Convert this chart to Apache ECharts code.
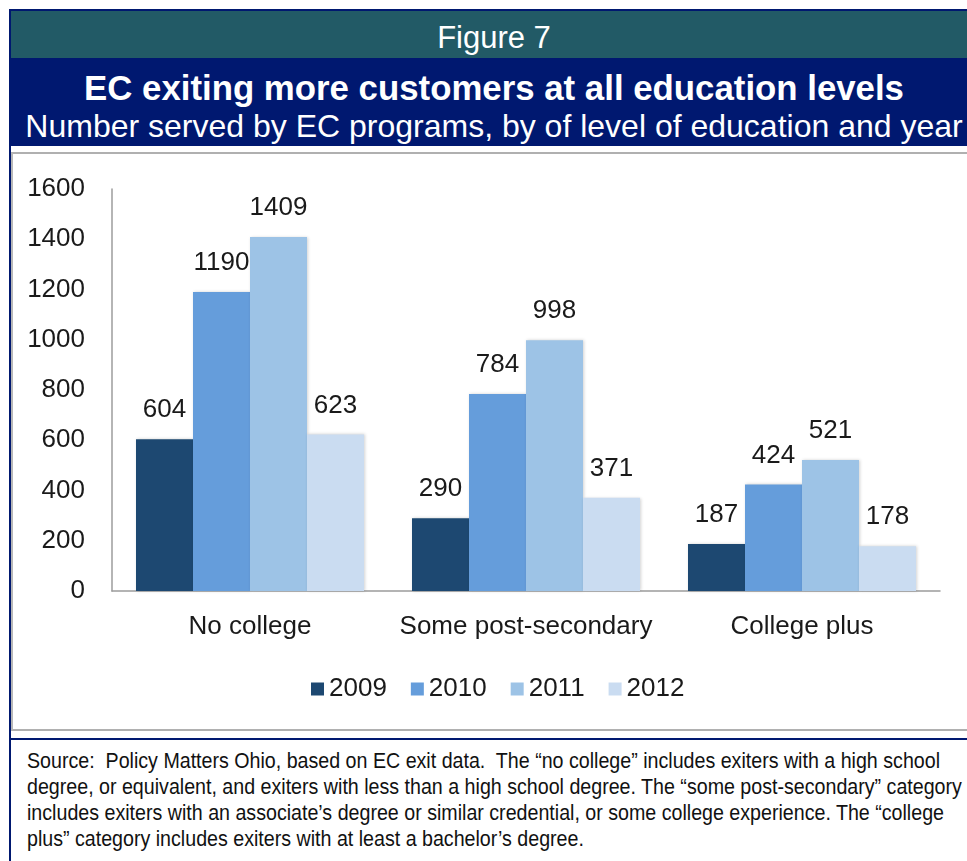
<!DOCTYPE html>
<html>
<head>
<meta charset="utf-8">
<script src="https://cdn.jsdelivr.net/npm/echarts@6/dist/echarts.min.js"></script>
<style>
  html, body { margin: 0; padding: 0; background: #ffffff; }
  body { width: 967px; height: 861px; position: relative; overflow: hidden; font-family: "Liberation Sans", Arial, sans-serif; }
  .abs { position: absolute; }
  #frameLeft { left: 9px; top: 9px; width: 2px; height: 860px; background: #001870; }
  #frameTop { left: 9px; top: 9px; width: 970px; height: 2px; background: #001870; }
  #teal { left: 11px; top: 11px; width: 970px; height: 47px; background: #225a66; }
  #navy { left: 11px; top: 58px; width: 970px; height: 88px; background: #001870; }
  .hdr { left: 0; width: 988px; text-align: center; color: #ffffff; white-space: nowrap; }
  #fig { font-size: 31px; line-height: 31px; top: 22px; }
  #title { font-size: 34.8px; line-height: 34.8px; top: 70.5px; font-weight: bold; }
  #subtitle { font-size: 32px; line-height: 32px; top: 110px; }
  #box { left: 11px; top: 152px; width: 970px; height: 575px; border-top: 2px solid #b0b0b0; border-left: 2px solid #b8b8b8; border-bottom: 2px solid #b0b0b0; }
  #navyLine { left: 9px; top: 738px; width: 970px; height: 2px; background: #001870; }
  #source { left: 27px; top: 748px; font-family: "Liberation Sans Narrow", "Liberation Sans", Arial, sans-serif; font-size: 22px; line-height: 26px; color: #111; white-space: nowrap; transform-origin: 0 0; }
  #source span { display: inline-block; }
  #chart { left: 0; top: 0; width: 967px; height: 861px; z-index: 5; }
</style>
</head>
<body>
<div id="frameLeft" class="abs"></div>
<div id="frameTop" class="abs"></div>
<div id="teal" class="abs"></div>
<div id="navy" class="abs"></div>
<div id="fig" class="abs hdr">Figure 7</div>
<div id="title" class="abs hdr">EC exiting more customers at all education levels</div>
<div id="subtitle" class="abs hdr">Number served by EC programs, by of level of education and year</div>
<div id="box" class="abs"></div>
<div id="navyLine" class="abs"></div>
<div id="source" class="abs"><span id="l1">Source:&nbsp; Policy Matters Ohio, based on EC exit data.&nbsp; The “no college” includes exiters with a high school</span><br><span>degree, or equivalent, and exiters with less than a high school degree. The “some post-secondary” category</span><br><span>includes exiters with an associate’s degree or similar credential, or some college experience. The “college</span><br><span>plus” category includes exiters with at least a bachelor’s degree.</span></div>
<div id="chart" class="abs"></div>
<script>
// ---- data ----
const categories = ['No college', 'Some post-secondary', 'College plus'];
const years = ['2009', '2010', '2011', '2012'];
const values2009 = [604, 290, 187];
const values2010 = [1190, 784, 424];
const values2011 = [1409, 998, 521];
const values2012 = [623, 371, 178];
const yTicks = [0, 200, 400, 600, 800, 1000, 1200, 1400, 1600];

const seriesValues = [values2009, values2010, values2011, values2012];
const colors = ['#1d4871', '#659ddb', '#9dc3e6', '#cadcf1'];

// fit source text width
(function () {
  const src = document.getElementById('source');
  const w = document.getElementById('l1').getBoundingClientRect().width;
  const target = 913;
  if (w > 0) src.style.transform = 'scaleX(' + (target / w) + ')';
})();

const FONT = '"Liberation Sans", Arial, sans-serif';
const chart = echarts.init(document.getElementById('chart'), null, { renderer: 'canvas' });
chart.setOption({
  backgroundColor: 'transparent',
  animation: false,
  color: colors,
  textStyle: { fontFamily: FONT },
  grid: { left: 112, top: 189, width: 828, height: 402, containLabel: false },
  legend: {
    data: years,
    left: 306,
    top: 671,
    itemWidth: 13,
    itemHeight: 13,
    itemGap: 24,
    icon: 'rect',
    textStyle: { fontSize: 26, color: '#1a1a1a', fontFamily: FONT, lineHeight: 26, padding: [0, 0, 0, 0] }
  },
  xAxis: {
    type: 'category',
    data: categories,
    axisLine: { show: true, lineStyle: { color: '#9c9c9c', width: 1.5 } },
    axisTick: { show: false },
    axisLabel: { interval: 0, fontSize: 26, color: '#1a1a1a', margin: 23, lineHeight: 26, fontFamily: FONT }
  },
  yAxis: {
    type: 'value',
    min: yTicks[0],
    max: yTicks[yTicks.length - 1],
    interval: 200,
    axisLine: { show: true, lineStyle: { color: '#9c9c9c', width: 1.5 } },
    axisTick: { show: false },
    splitLine: { show: false },
    axisLabel: { fontSize: 26, color: '#1a1a1a', margin: 27, fontFamily: FONT, formatter: (v) => String(v) }
  },
  series: years.map((y, i) => ({
    name: y,
    type: 'bar',
    data: seriesValues[i],
    barWidth: 57,
    barGap: '0%',
    itemStyle: { color: colors[i], shadowBlur: 3, shadowColor: 'rgba(0,0,0,0.18)', shadowOffsetX: 1, shadowOffsetY: 0 },
    label: { show: true, position: 'top', distance: 16, fontSize: 26, lineHeight: 26, color: '#1a1a1a', fontFamily: FONT }
  }))
});
</script>
</body>
</html>
